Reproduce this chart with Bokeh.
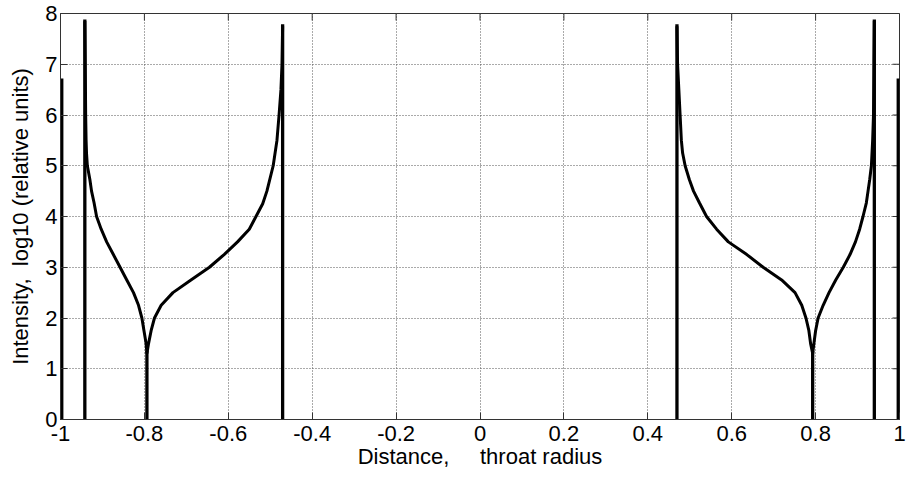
import math
from bokeh.plotting import figure
from bokeh.models import Range1d, FixedTicker
from bokeh.embed import file_html
from bokeh.resources import INLINE

# ---- data ----
x_min, x_max = -1, 1
y_min, y_max = 0, 8
x_ticks = [-1, -0.8, -0.6, -0.4, -0.2, 0, 0.2, 0.4, 0.6, 0.8, 1]
x_tick_labels = ["-1", "-0.8", "-0.6", "-0.4", "-0.2", "0", "0.2", "0.4", "0.6", "0.8", "1"]
y_ticks = [0, 1, 2, 3, 4, 5, 6, 7, 8]
y_tick_labels = ["0", "1", "2", "3", "4", "5", "6", "7", "8"]

# vertical spikes (position, base, top)
spike_x = [-0.997, -0.942, -0.794, -0.4705, 0.4695, 0.793, 0.940, 0.997]
spike_base = [0, 0, 0, 0, 0, 0, 0, 0]
spike_top = [6.72, 7.88, 1.35, 7.79, 7.79, 1.35, 7.88, 6.72]

left_curve_x = [-0.942, -0.941, -0.940, -0.939, -0.938, -0.936, -0.930, -0.926,
                -0.920, -0.914, -0.903, -0.890, -0.874, -0.858, -0.842, -0.826,
                -0.814, -0.806, -0.801, -0.796, -0.794, -0.790, -0.784, -0.776,
                -0.760, -0.732, -0.689, -0.645, -0.610, -0.578, -0.550, -0.534,
                -0.518, -0.508, -0.493, -0.484, -0.479, -0.4745, -0.472, -0.4705]
left_curve_y = [7.85, 7.0, 6.0, 5.5, 5.25, 5.0, 4.73, 4.5,
                4.27, 4.0, 3.75, 3.5, 3.25, 3.0, 2.75, 2.5,
                2.25, 2.0, 1.75, 1.5, 1.3, 1.5, 1.75, 2.0,
                2.25, 2.5, 2.75, 3.0, 3.25, 3.5, 3.75, 4.0,
                4.25, 4.5, 5.0, 5.5, 6.0, 6.5, 7.0, 7.75]

right_curve_x = [0.4695, 0.471, 0.474, 0.477, 0.480, 0.483, 0.489, 0.499,
                 0.509, 0.523, 0.540, 0.564, 0.592, 0.636, 0.675, 0.719,
                 0.751, 0.767, 0.777, 0.784, 0.788, 0.793, 0.796, 0.800,
                 0.806, 0.818, 0.832, 0.848, 0.866, 0.882, 0.895, 0.905,
                 0.913, 0.921, 0.925, 0.929, 0.933, 0.936, 0.938, 0.939, 0.940]
right_curve_y = [7.75, 7.0, 6.5, 6.0, 5.5, 5.25, 5.0, 4.73,
                 4.5, 4.27, 4.0, 3.75, 3.5, 3.25, 3.0, 2.75,
                 2.5, 2.25, 2.0, 1.75, 1.5, 1.3, 1.5, 1.75,
                 2.0, 2.25, 2.5, 2.75, 3.0, 3.25, 3.5, 3.75,
                 4.0, 4.27, 4.5, 4.73, 5.0, 5.5, 6.0, 7.0, 7.85]

FONT = "Liberation Sans"
FS = "22px"
AXC = "#333333"

p = figure(width=906, height=477,
           x_range=Range1d(x_min, x_max), y_range=Range1d(y_min, y_max),
           output_backend="svg", toolbar_location=None,
           min_border_left=60, min_border_right=7,
           min_border_top=13, min_border_bottom=58,
           background_fill_color="white", border_fill_color="white")
p.outline_line_color = AXC
p.outline_line_width = 1

xt = FixedTicker(ticks=x_ticks)
yt = FixedTicker(ticks=y_ticks)

p.xaxis.ticker = xt
p.yaxis.ticker = yt
p.xaxis.major_label_overrides = {t: l for t, l in zip(x_ticks, x_tick_labels)}
p.yaxis.major_label_overrides = {t: l for t, l in zip(y_ticks, y_tick_labels)}

for ax in (p.xaxis[0], p.yaxis[0]):
    ax.major_tick_in = 7
    ax.major_tick_out = 0
    ax.minor_tick_in = 0
    ax.minor_tick_out = 0
    ax.axis_line_color = AXC
    ax.major_tick_line_color = AXC
    ax.major_label_text_font = FONT
    ax.major_label_text_font_size = FS
    ax.major_label_text_color = "black"
    ax.axis_label_text_font = FONT
    ax.axis_label_text_font_size = FS
    ax.axis_label_text_font_style = "normal"
    ax.axis_label_text_color = "black"

p.xaxis.axis_label = "Distance,\u00a0\u00a0\u00a0\u00a0 throat radius"
p.yaxis.axis_label = "Intensity,\u00a0 log10 (relative units)"
p.xaxis.major_label_standoff = 6
p.xaxis.axis_label_standoff = 0
p.yaxis.major_label_standoff = 3
p.yaxis.axis_label_standoff = 9

# inward box ticks on the top and right edges
p.ray(x=x_ticks, y=[y_max] * len(x_ticks), length=7, length_units="screen",
      angle=-math.pi / 2, line_color=AXC, line_width=1)
p.ray(x=[x_max] * len(y_ticks), y=y_ticks, length=7, length_units="screen",
      angle=math.pi, line_color=AXC, line_width=1)

p.xgrid.ticker = xt
p.ygrid.ticker = yt
for g in (p.xgrid[0], p.ygrid[0]):
    g.grid_line_color = "#555555"
    g.grid_line_dash = "1 2"
    g.grid_line_width = 1

p.segment(x0=spike_x, y0=spike_base, x1=spike_x, y1=spike_top,
          line_color="black", line_width=3.3)
p.line(left_curve_x, left_curve_y, line_color="black", line_width=3)
p.line(right_curve_x, right_curve_y, line_color="black", line_width=3)

open("out.html", "w").write(file_html(p, INLINE))
